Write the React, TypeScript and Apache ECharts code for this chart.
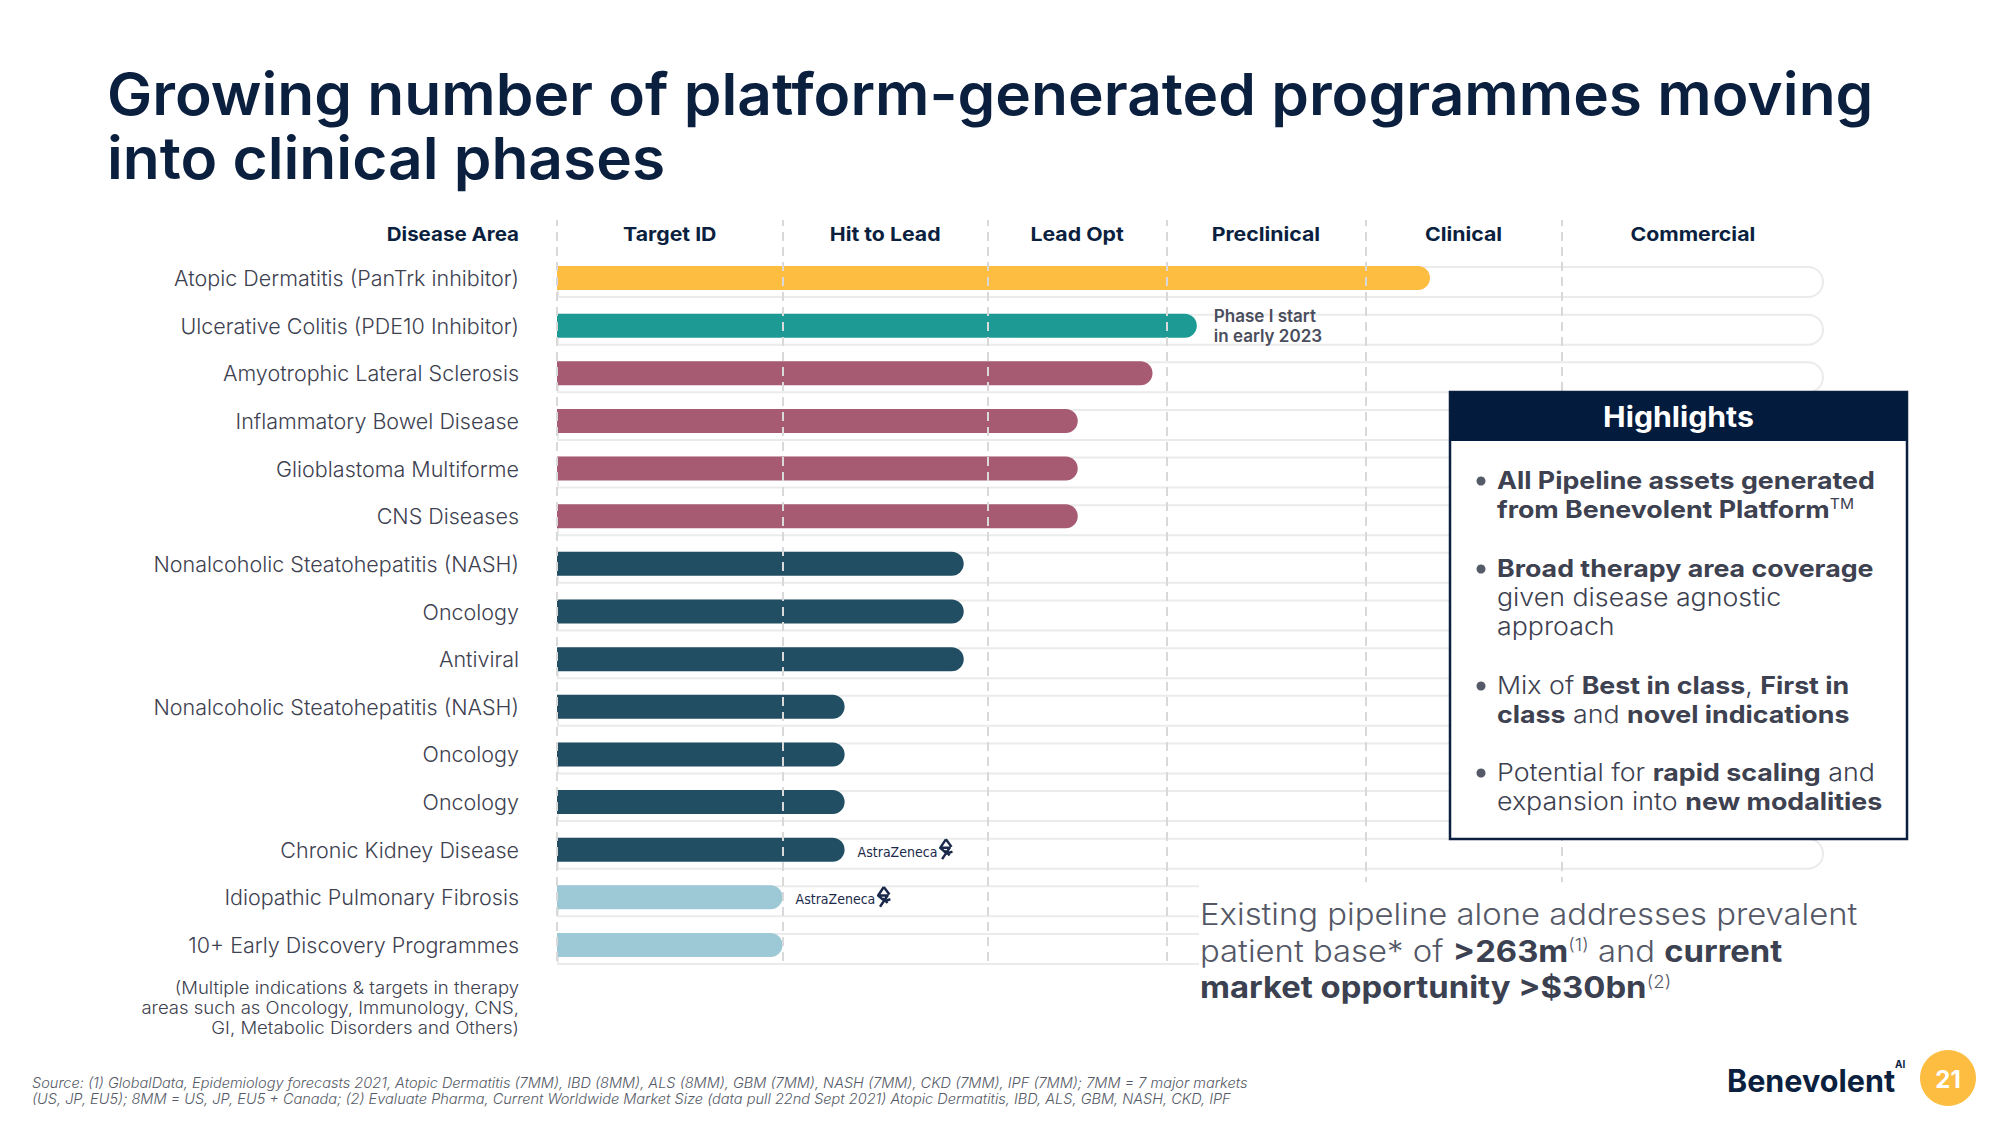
import React, { useEffect, useRef } from "react";
import * as echarts from "echarts";

// ---------- data ----------
const categories = [
  "Atopic Dermatitis (PanTrk inhibitor)",
  "Ulcerative Colitis (PDE10 Inhibitor)",
  "Amyotrophic Lateral Sclerosis",
  "Inflammatory Bowel Disease",
  "Glioblastoma Multiforme",
  "CNS Diseases",
  "Nonalcoholic Steatohepatitis (NASH)",
  "Oncology",
  "Antiviral",
  "Nonalcoholic Steatohepatitis (NASH) ",
  "Oncology ",
  "Oncology  ",
  "Chronic Kidney Disease",
  "Idiopathic Pulmonary Fibrosis",
  "10+ Early Discovery Programmes",
];
// progress along the pipeline track, % of track length
const progress = [68.9, 50.5, 47.0, 41.1, 41.1, 41.1, 32.1, 32.1, 32.1, 22.7, 22.7, 22.7, 22.7, 17.8, 17.8];
const barColors = [
  "#FDBD40", "#1E9A94", "#A65B72", "#A65B72", "#A65B72", "#A65B72",
  "#214E63", "#214E63", "#214E63", "#214E63", "#214E63", "#214E63", "#214E63",
  "#9DC9D6", "#9DC9D6",
];
const annotations = ["", "Phase I start\nin early 2023", "", "", "", "", "", "", "", "", "", "", "AstraZeneca", "AstraZeneca", ""];
const stages = ["Target ID", "Hit to Lead", "Lead Opt", "Preclinical", "Clinical", "Commercial"];
const stageEdges = [0, 17.8, 34.0, 48.1, 63.8, 79.3, 100];
const trackMax = 100;

const titleLines = ["Growing number of platform-generated programmes moving", "into clinical phases"];
const noteLines = [
  "(Multiple indications & targets in therapy",
  "areas such as Oncology, Immunology, CNS,",
  "GI, Metabolic Disorders and Others)",
];
const sourceLines = [
  "Source: (1) GlobalData, Epidemiology forecasts 2021, Atopic Dermatitis (7MM), IBD (8MM), ALS (8MM), GBM (7MM), NASH (7MM), CKD (7MM), IPF (7MM); 7MM = 7 major markets",
  "(US, JP, EU5); 8MM = US, JP, EU5 + Canada; (2) Evaluate Pharma, Current Worldwide Market Size (data pull 22nd Sept 2021) Atopic Dermatitis, IBD, ALS, GBM, NASH, CKD, IPF",
];
const highlightBullets = [
  ["{b|All Pipeline assets generated}", "{b|from Benevolent Platform}{sup|TM}"],
  ["{b|Broad therapy area coverage}", "{n|given disease agnostic}", "{n|approach}"],
  ["{n|Mix of }{b|Best in class}{n|, }{b|First in}", "{b|class}{n| and }{b|novel indications}"],
  ["{n|Potential for }{b|rapid scaling}{n| and}", "{n|expansion into }{b|new modalities}"],
];
const summaryLines = [
  "{n|Existing pipeline alone addresses prevalent}",
  "{n|patient base* of }{b|>263m}{sup|(1)}{n| and }{b|current}",
  "{b|market opportunity >$30bn}{sup|(2)}",
];
const pageNumber = "21";

// ---------- style ----------
const NAVY = "#0b1f3f";
const TEXT = "#3d4150";
const FONT = "Inter, 'Open Sans', sans-serif";
const NARROW = "'Liberation Sans Narrow', 'DejaVu Sans Condensed', Roboto, sans-serif";

const azIcon =
  "data:image/svg+xml;utf8," +
  encodeURIComponent(
    "<svg xmlns='http://www.w3.org/2000/svg' width='18' height='24' viewBox='0 0 18 24'>" +
      "<path d='M9 1 L3 10 L13 10 L5 22 M9 1 L15 9 M3 10 L10 16 L16 14 M8 13 L13 18' fill='none' stroke='#1b2a4a' stroke-width='2.6' stroke-linejoin='round'/>" +
      "</svg>"
  );

export default function App() {
  const ref = useRef<HTMLDivElement>(null);

  useEffect(() => {
    const chart = echarts.init(ref.current!, null, { renderer: "svg" });

    const barData = progress.map((v, i) => {
      const item: any = {
        value: v,
        itemStyle: { color: barColors[i] },
      };
      const note = annotations[i];
      if (note) {
        const isPartner = note === "AstraZeneca";
        item.label = isPartner
          ? {
              show: true,
              position: "right",
              distance: 13,
              formatter: "{t|" + note + "}{i|}",
              rich: {
                t: { fontFamily: NARROW, fontSize: 14, color: "#1b2a4a", padding: [4, 0, 0, 0] },
                i: { width: 17, height: 24, backgroundColor: { image: azIcon }, padding: [0, 0, 4, 0] },
              },
            }
          : {
              show: true,
              position: "right",
              distance: 17,
              formatter: note,
              fontFamily: FONT,
              fontSize: 17,
              fontWeight: 600,
              color: "#4a4d5c",
              lineHeight: 20,
              align: "left",
            };
      }
      return item;
    });

    const option: any = {
      animation: false,
      backgroundColor: "#ffffff",
      grid: [
        { left: 557, right: 176, top: 254.2, bottom: 156.2, containLabel: false },
        { left: 557, right: 176, top: 220, bottom: 164, containLabel: false },
      ],
      xAxis: [
        { type: "value", gridIndex: 0, min: 0, max: trackMax, show: false },
        { type: "value", gridIndex: 1, min: 0, max: trackMax, show: false },
      ],
      yAxis: [
        {
          type: "category",
          gridIndex: 0,
          data: categories,
          inverse: true,
          axisLine: { show: false },
          axisTick: { show: false },
          splitLine: { show: false },
          axisLabel: {
            margin: 38,
            fontFamily: FONT,
            fontSize: 21.5,
            fontWeight: 300,
            color: TEXT,
            formatter: (v: string) => v.trim(),
          },
        },
        { type: "value", gridIndex: 1, min: 0, max: 1, show: false },
      ],
      series: [
        {
          type: "bar",
          name: "track",
          xAxisIndex: 0,
          yAxisIndex: 0,
          data: categories.map(() => trackMax),
          barWidth: 32,
          barGap: "-100%",
          silent: true,
          z: 1,
          itemStyle: {
            color: "#ffffff",
            borderColor: "#ebebeb",
            borderWidth: 2,
            borderRadius: [0, 16, 16, 0],
          },
        },
        {
          type: "bar",
          name: "progress",
          xAxisIndex: 0,
          yAxisIndex: 0,
          data: barData,
          barWidth: 24,
          barGap: "-100%",
          z: 2,
          itemStyle: { borderRadius: [0, 12, 12, 0] },
        },
        {
          type: "scatter",
          name: "dividers",
          xAxisIndex: 1,
          yAxisIndex: 1,
          data: [[0, 0.5]],
          symbolSize: 0,
          silent: true,
          z: 5,
          markLine: {
            silent: true,
            symbol: "none",
            label: { show: false },
            lineStyle: { color: "#d9d9d9", type: [9, 6], width: 2 },
            data: stageEdges.slice(0, stages.length).map((e) => ({ xAxis: e })),
          },
        },
      ],
    };
    chart.setOption(option);

    const g: any[] = [];
    const txt = (x: number, y: number, style: any, scaleX = 1, z = 100) => ({
      type: "text",
      x,
      y,
      z,
      scaleX,
      style: { fontFamily: FONT, textVerticalAlign: "middle", ...style },
    });
    // title
    titleLines.forEach((t, i) => {
      g.push(txt(107, 94 + i * 64, { text: t, fill: NAVY, fontSize: 58, fontWeight: 600, textAlign: "left" }, 1.042));
    });
    // column headers
    g.push(txt(519, 234, { text: "Disease Area", fill: NAVY, fontSize: 19, fontWeight: 700, textAlign: "right" }, 1.08));
    stages.forEach((s, i) => {
      const c = (stageEdges[i] + stageEdges[i + 1]) / 2;
      const x = chart.convertToPixel({ xAxisIndex: 0 } as any, c) as unknown as number;
      g.push(txt(x, 234, { text: s, fill: NAVY, fontSize: 19, fontWeight: 700, textAlign: "center" }, 1.12));
    });
    // note under the categories
    noteLines.forEach((t, i) => {
      g.push(txt(519, 988 + i * 20, { text: t, fill: TEXT, fontSize: 17, fontWeight: 300, textAlign: "right" }, 1.09));
    });
    // white panel under the summary
    g.push({ type: "rect", z: 90, shape: { x: 1199, y: 882, width: 780, height: 125 }, style: { fill: "#ffffff" } });
    // highlights box
    g.push({ type: "rect", z: 90, shape: { x: 1450, y: 392, width: 457, height: 447 }, style: { fill: "#ffffff", stroke: NAVY, lineWidth: 2.5 } });
    g.push({ type: "rect", z: 91, shape: { x: 1450, y: 392, width: 457, height: 49 }, style: { fill: "#031b3c" } });
    g.push(txt(1678.5, 417, { text: "Highlights", fill: "#ffffff", fontSize: 28, fontWeight: 700, textAlign: "center" }, 1.08));
    const richHL = {
      b: { fontFamily: FONT, fontSize: 24, fontWeight: 700, fill: TEXT },
      n: { fontFamily: FONT, fontSize: 24, fontWeight: 300, fill: TEXT },
      sup: { fontFamily: FONT, fontSize: 14, fontWeight: 400, fill: TEXT, verticalAlign: "top" },
    };
    const bulletStarts = [480, 568, 685, 772];
    highlightBullets.forEach((lines, bi) => {
      const y0 = bulletStarts[bi];
      g.push({ type: "circle", z: 100, shape: { cx: 1481, cy: y0 + 1, r: 4.5 }, style: { fill: "#555a68" } });
      lines.forEach((ln, li) => {
        g.push(txt(1497, y0 + li * 29, { text: ln, rich: richHL, fontSize: 24, textAlign: "left" }, 1.115));
      });
    });
    // summary statement
    const richSum = {
      b: { fontFamily: FONT, fontSize: 30, fontWeight: 700, fill: "#3b4150" },
      n: { fontFamily: FONT, fontSize: 30, fontWeight: 300, fill: "#545866" },
      sup: { fontFamily: FONT, fontSize: 17, fontWeight: 300, fill: "#545866", verticalAlign: "top" },
    };
    summaryLines.forEach((ln, i) => {
      g.push(txt(1200, 915 + i * 36.5, { text: ln, rich: richSum, fontSize: 30, textAlign: "left" }, 1.095));
    });
    // source
    sourceLines.forEach((t, i) => {
      g.push(txt(32, 1083 + i * 15.5, { text: t, fill: "#555a66", fontSize: 14, fontStyle: "italic", fontWeight: 300, textAlign: "left" }, 1.04));
    });
    // logo and page number
    g.push(txt(1727, 1080, { text: "Benevolent", fill: NAVY, fontSize: 31, fontWeight: 700, textAlign: "left" }, 0.985));
    g.push(txt(1895, 1064, { text: "AI", fill: NAVY, fontSize: 10, fontWeight: 700, textAlign: "left" }));
    g.push({ type: "circle", z: 100, shape: { cx: 1948, cy: 1078, r: 28 }, style: { fill: "#FDBD40" } });
    g.push(txt(1948, 1079, { text: pageNumber, fill: "#ffffff", fontSize: 24, fontWeight: 700, textAlign: "center" }, 1, 101));

    chart.setOption({ graphic: g });

    return () => {
      chart.dispose();
    };
  }, []);

  return (
    <div
      ref={ref}
      style={{ position: "absolute", left: 0, top: 0, width: 2000, height: 1125, background: "#ffffff" }}
    />
  );
}
